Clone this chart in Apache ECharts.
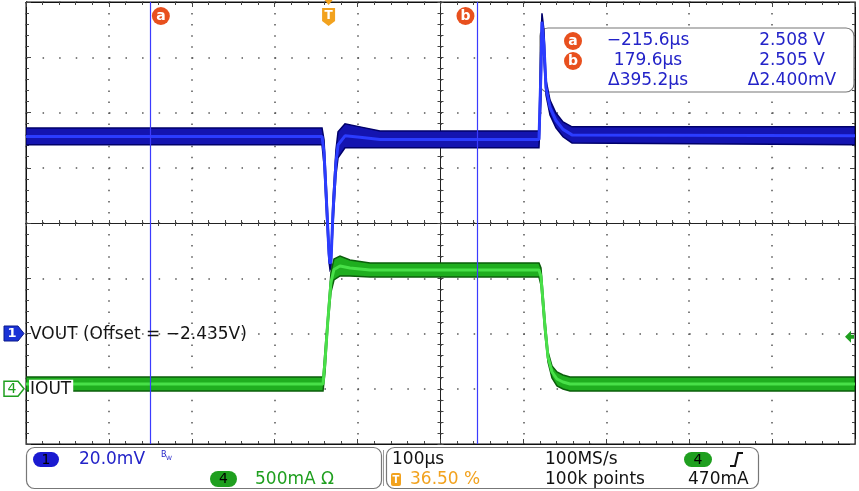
<!DOCTYPE html>
<html><head><meta charset="utf-8">
<script src="https://cdn.jsdelivr.net/npm/echarts@6/dist/echarts.min.js"></script>
<style>html,body{margin:0;padding:0;background:#fff}#c{width:859px;height:491px}</style>
</head><body><div id="c"></div>
<script>
// ---- Channel 1 (VOUT) envelope, time in µs relative to trigger, volts ----
const vTime = [-365, -7.9, -5.5, -1.9, 0.5, 1.7, 2.9, 5.3, 8.9, 11.4, 19.8, 37.9, 62.0, 253.8, 256.2, 257.4, 259.8, 262.3, 267.1, 274.3, 282.8, 293.6, 635];
const vHi   = [2.5094, 2.5094, 2.5051, 2.4834, 2.4671, 2.4625, 2.4635, 2.4834, 2.5015, 2.5080, 2.5109, 2.5098, 2.5083, 2.5083, 2.5412, 2.5509, 2.5448, 2.5267, 2.5195, 2.5148, 2.5116, 2.5098, 2.5098];
const vLo   = [2.5033, 2.5033, 2.4960, 2.4744, 2.4610, 2.4581, 2.4588, 2.4744, 2.4924, 2.4986, 2.5022, 2.5022, 2.5022, 2.5022, 2.5195, 2.5448, 2.5340, 2.5213, 2.5141, 2.5094, 2.5062, 2.5040, 2.5033];
// ---- Channel 4 (IOUT) envelope, amps ----
const iTime = [-365, -6.7, -4.3, -0.7, 2.9, 6.5, 13.8, 25.8, 50.0, 253.8, 256.2, 261.1, 264.7, 269.5, 275.5, 282.8, 291.2, 635];
const iHi   = [0.1063, 0.1063, 0.3507, 0.6946, 1.0566, 1.1742, 1.2014, 1.1652, 1.1380, 1.1380, 1.0928, 0.6222, 0.3326, 0.2059, 0.1516, 0.1244, 0.1063, 0.1063];
const iLo   = [-0.0204, -0.0204, 0.1516, 0.5769, 0.8756, 0.9842, 1.0204, 1.0204, 1.0113, 1.0113, 0.9389, 0.4864, 0.2421, 0.0973, 0.0249, -0.0023, -0.0204, -0.0204];
// ---- Scope settings ----
const timeMin = -365, timeMax = 635;           // 100 µs/div, trigger at 36.50 %
const ch1Offset = 2.435, ch1VoltsPerDiv = 0.02, ch1Position = -2;
const ch4AmpsPerDiv = 0.5, ch4Position = -3;
const triggerLevel = 0.47;
const cursorTimes = [-215.6, 179.6];
const cursorNames = ['a', 'b'];
const readoutTimes = ['\u2212215.6\u00b5s', '179.6\u00b5s', '\u0394395.2\u00b5s'];
const readoutValues = ['2.508 V', '2.505 V', '\u03942.400mV'];
const ch1Label = 'VOUT (Offset = \u22122.435V)';
const ch4Label = 'IOUT';
const statusTexts = {
  ch1Scale: '20.0mV', ch4Scale: '500mA \u03a9', timeScale: '100\u00b5s', trigPos: '36.50 %',
  sampleRate: '100MS/s', recordLen: '100k points', trigLevel: '470mA'
};

const zip = (a, b) => a.map((v, k) => [v, b[k]]);
const mid = (hi, lo) => hi.map((v, k) => +((v + lo[k]) / 2).toFixed(5));

const FONT = 'DejaVu Sans';
const FS = 17;
const gridLeft = 26, gridTop = 2, gridW = 829, gridH = 442;

const dotV = { color: '#555', width: 1.5, type: [1.5, gridH / 40 - 1.5] };
const dotH = { color: '#555', width: 1.5, type: [1.5, gridW / 50 - 1.5] };
const tickStyle = { color: '#444', width: 1 };

function gratX(pos, split) {
  return { type: 'value', min: -5, max: 5, interval: 1, position: pos,
    axisLine: { show: true, onZero: false, lineStyle: { color: '#111', width: 1 } },
    axisTick: { show: true, inside: true, length: 5, lineStyle: tickStyle },
    minorTick: { show: true, splitNumber: 5, length: 3, lineStyle: tickStyle },
    axisLabel: { show: false }, splitLine: { show: split, lineStyle: dotV } };
}
function gratY(pos, split) {
  return { type: 'value', min: -4, max: 4, interval: 1, position: pos,
    axisLine: { show: true, onZero: false, lineStyle: { color: '#111', width: 1 } },
    axisTick: { show: true, inside: true, length: 5, lineStyle: tickStyle },
    minorTick: { show: true, splitNumber: 5, length: 3, lineStyle: tickStyle },
    axisLabel: { show: false }, splitLine: { show: split, lineStyle: dotH } };
}
function centerX(inside) {
  return { type: 'value', min: -5, max: 5, interval: 1, position: 'bottom',
    axisLine: { show: true, onZero: true, onZeroAxisIndex: 0, lineStyle: { color: '#222', width: 1 } },
    axisTick: { show: true, inside: inside, length: 3, lineStyle: tickStyle },
    minorTick: { show: true, splitNumber: 5, length: 3, lineStyle: tickStyle },
    axisLabel: { show: false }, splitLine: { show: false } };
}
function centerY(inside) {
  return { type: 'value', min: -4, max: 4, interval: 1, position: 'left',
    axisLine: { show: true, onZero: true, onZeroAxisIndex: 1, lineStyle: { color: '#222', width: 1 } },
    axisTick: { show: true, inside: inside, length: 3, lineStyle: tickStyle },
    minorTick: { show: true, splitNumber: 5, length: 3, lineStyle: tickStyle },
    axisLabel: { show: false }, splitLine: { show: false } };
}

const vMin = ch1Offset + (-4 - ch1Position) * ch1VoltsPerDiv;
const vMax = ch1Offset + (4 - ch1Position) * ch1VoltsPerDiv;
const iMin = (-4 - ch4Position) * ch4AmpsPerDiv;
const iMax = (4 - ch4Position) * ch4AmpsPerDiv;

function band(name, t, hi, lo, yIdx, edge, fill, core, coreW) {
  const triples = t.map((v, k) => [v, hi[k], lo[k]]);
  return [
    { name: name + 'band', type: 'custom', xAxisIndex: 0, yAxisIndex: yIdx, data: triples, silent: true, clip: true, z: 3,
      encode: { x: 0, y: [1, 2] },
      renderItem: function (params, api) {
        if (params.dataIndex !== 0) return null;
        const pts = [];
        for (let k = 0; k < triples.length; k++) pts.push(api.coord([triples[k][0], triples[k][1]]));
        for (let k = triples.length - 1; k >= 0; k--) pts.push(api.coord([triples[k][0], triples[k][2]]));
        return { type: 'polygon', shape: { points: pts }, style: { fill: fill, stroke: edge, lineWidth: 1.5 } };
      } },
    { name: name + 'mid', type: 'line', xAxisIndex: 0, yAxisIndex: yIdx, data: zip(t, mid(hi, lo)),
      showSymbol: false, silent: true, lineStyle: { color: core, width: coreW }, z: 4 }
  ];
}

const chart = echarts.init(document.getElementById('c'), null, { renderer: 'canvas' });
const series = [].concat(
  band('v', vTime, vHi, vLo, 4, '#00006a', '#1414b0', '#2b3cff', 3),
  band('i', iTime, iHi, iLo, 5, '#0b5e0b', '#1fae1f', '#48e048', 3)
);
series.push({ name: 'cursors', type: 'line', xAxisIndex: 0, yAxisIndex: 4, data: [], z: 6,
  markLine: { silent: true, symbol: 'none', animation: false, label: { show: false },
    lineStyle: { color: '#3b3bff', width: 1.2, type: 'solid' },
    data: cursorTimes.map(t => ({ xAxis: t })) } });

chart.setOption({
  animation: false,
  backgroundColor: '#fff',
  grid: { left: gridLeft, top: gridTop, width: gridW, height: gridH, show: true, backgroundColor: '#fff', borderColor: '#111', borderWidth: 1 },
  xAxis: [
    { type: 'value', min: timeMin, max: timeMax, show: false },
    gratX('bottom', true), gratX('top', false), centerX(false), centerX(true)
  ],
  yAxis: [
    gratY('left', true), gratY('right', false), centerY(false), centerY(true),
    { type: 'value', min: vMin, max: vMax, show: false },
    { type: 'value', min: iMin, max: iMax, show: false }
  ],
  series: series
});

const px = v => chart.convertToPixel({ xAxisIndex: 0 }, v);
const pyV = v => chart.convertToPixel({ yAxisIndex: 4 }, v);
const pyI = v => chart.convertToPixel({ yAxisIndex: 5 }, v);

const ORANGE_RED = '#e8501e', TORANGE = '#f2a21e', BLUE_T = '#2323c8', GREEN = '#1f9f1f';
const g = [];
function txt(x, y, s, color, size, align, extra) {
  return { type: 'text', z: (extra && extra.z) || 20, x: x, y: y,
    style: { text: s, fill: color, font: (extra && extra.weight ? extra.weight + ' ' : '') + size + 'px "' + FONT + '"',
      align: align || 'left', verticalAlign: 'middle' } };
}
function circleLabel(cx, cy, letter, z) {
  g.push({ type: 'circle', z: z || 20, shape: { cx: cx, cy: cy, r: 9 }, style: { fill: ORANGE_RED } });
  g.push(txt(cx, cy + 0.5, letter, '#fff', 14, 'center', { weight: 'bold', z: (z || 20) + 1 }));
}
// cursor tags
const tagOffsets = [11, -12];
cursorTimes.forEach((t, k) => circleLabel(px(t) + tagOffsets[k], 16, cursorNames[k]));
// trigger marker
const tx = px(0);
g.push({ type: 'polygon', z: 20, shape: { points: [[tx - 4, 0], [tx + 4, 0], [tx, 5]] }, style: { fill: TORANGE } });
g.push({ type: 'polygon', z: 20, shape: { points: [[tx - 6.5, 8], [tx + 6.5, 8], [tx + 6.5, 21], [tx, 26], [tx - 6.5, 21]] }, style: { fill: TORANGE } });
g.push(txt(tx, 16, 'T', '#fff', 12, 'center', { weight: 'bold', z: 21 }));
// channel 1 marker
const y1 = pyV(ch1Offset);
g.push({ type: 'polygon', z: 20, shape: { points: [[4, y1 - 7.5], [18, y1 - 7.5], [24, y1], [18, y1 + 7.5], [4, y1 + 7.5]] }, style: { fill: '#1a32d6', stroke: '#0b1a8a', lineWidth: 1 } });
g.push(txt(12, y1 + 0.5, '1', '#fff', 13, 'center', { weight: 'bold', z: 21 }));
g.push(txt(30, y1 + 1, ch1Label, '#151515', FS, 'left'));
// channel 4 marker
const y4 = pyI(0);
g.push({ type: 'polygon', z: 20, shape: { points: [[4, y4 - 7.5], [18, y4 - 7.5], [24, y4], [18, y4 + 7.5], [4, y4 + 7.5]] }, style: { fill: '#fff', stroke: GREEN, lineWidth: 1.5 } });
g.push(txt(12, y4 + 0.5, '4', GREEN, 14, 'center', { z: 21 }));
g.push({ type: 'text', z: 20, x: 29, y: y4 + 1, style: { text: ch4Label, fill: '#151515', font: FS + 'px "' + FONT + '"', verticalAlign: 'middle', backgroundColor: '#fff', padding: [2, 2, 1, 1] } });
// trigger level arrow (right edge)
const yt = pyI(triggerLevel);
g.push({ type: 'polygon', z: 20, shape: { points: [[845, yt], [851, yt - 6], [851, yt - 2], [854, yt - 2], [854, yt + 2], [851, yt + 2], [851, yt + 6]] }, style: { fill: GREEN } });
// measurement readout box
g.push({ type: 'rect', z: 1, shape: { x: 540, y: 28, width: 314, height: 64, r: 8 }, style: { fill: '#fff', stroke: '#777', lineWidth: 1.2 } });
circleLabel(573, 41, 'a');
circleLabel(573, 61, 'b');
[41, 61, 81].forEach((yy, k) => {
  g.push(txt(648, yy, readoutTimes[k], BLUE_T, FS, 'center'));
  g.push(txt(792, yy, readoutValues[k], BLUE_T, FS, 'center'));
});
// bottom status box 1
g.push({ type: 'rect', z: 20, shape: { x: 26.5, y: 447.5, width: 355, height: 41, r: 8 }, style: { fill: '#fff', stroke: '#777', lineWidth: 1.2 } });
g.push({ type: 'rect', z: 21, shape: { x: 33, y: 452, width: 26, height: 15, r: 7.5 }, style: { fill: '#1a1ad0' } });
g.push(txt(46, 460, '1', '#000', 14, 'center', { z: 22 }));
g.push(txt(79, 460, statusTexts.ch1Scale, BLUE_T, FS, 'left', { z: 22 }));
g.push(txt(161, 455, 'B', BLUE_T, 8, 'left', { z: 22 }));
g.push(txt(166, 458, 'W', BLUE_T, 6, 'left', { z: 22 }));
g.push({ type: 'rect', z: 21, shape: { x: 210, y: 471, width: 27, height: 16, r: 8 }, style: { fill: GREEN } });
g.push(txt(223.5, 479.5, '4', '#000', 14, 'center', { z: 22 }));
g.push(txt(255, 480, statusTexts.ch4Scale, GREEN, FS, 'left', { z: 22 }));
// bottom status box 2
g.push({ type: 'line', z: 20, shape: { x1: 383.5, y1: 450, x2: 383.5, y2: 486 }, style: { stroke: '#999', lineWidth: 1 } });
g.push({ type: 'rect', z: 20, shape: { x: 386.5, y: 447.5, width: 372, height: 41, r: 8 }, style: { fill: '#fff', stroke: '#777', lineWidth: 1.2 } });
g.push(txt(392, 460, statusTexts.timeScale, '#111', FS, 'left', { z: 22 }));
g.push({ type: 'rect', z: 21, shape: { x: 391, y: 473, width: 10, height: 13, r: 2 }, style: { fill: TORANGE } });
g.push(txt(396, 480, 'T', '#fff', 10, 'center', { weight: 'bold', z: 22 }));
g.push(txt(410, 480, statusTexts.trigPos, TORANGE, FS, 'left', { z: 22 }));
g.push(txt(545, 460, statusTexts.sampleRate, '#111', FS, 'left', { z: 22 }));
g.push(txt(545, 480, statusTexts.recordLen, '#111', FS, 'left', { z: 22 }));
g.push({ type: 'rect', z: 21, shape: { x: 684, y: 452, width: 28, height: 15, r: 7.5 }, style: { fill: GREEN } });
g.push(txt(698, 460, '4', '#000', 14, 'center', { z: 22 }));
g.push({ type: 'polyline', z: 21, shape: { points: [[730, 466], [735, 466], [738, 453], [743, 453]] }, style: { stroke: '#111', lineWidth: 2, fill: null } });
g.push(txt(688, 480, statusTexts.trigLevel, '#111', FS, 'left', { z: 22 }));

chart.setOption({ graphic: g });
</script>
</body></html>
